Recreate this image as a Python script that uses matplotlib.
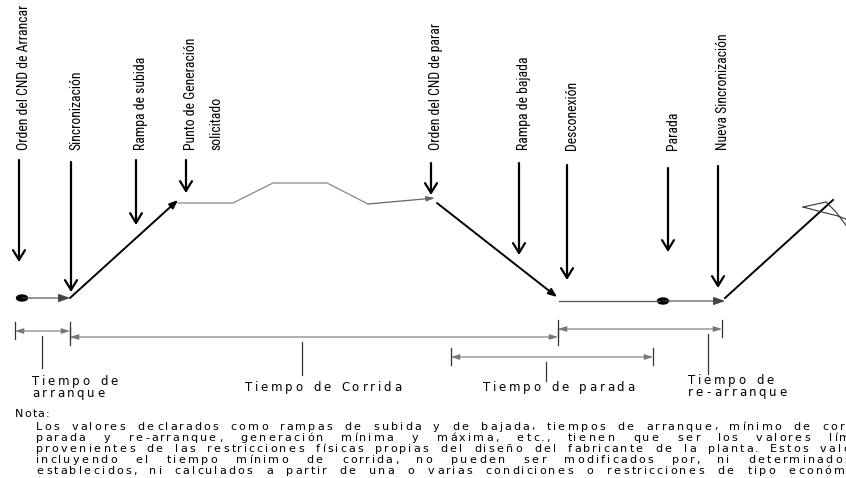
import matplotlib
matplotlib.use("Agg")
import matplotlib.pyplot as plt
from matplotlib import font_manager
from matplotlib.patches import FancyArrowPatch, Ellipse
from matplotlib.font_manager import FontProperties, findfont
from matplotlib.ft2font import FT2Font

# events marked with vertical arrows
event_labels = ["Orden del CND de Arrancar", "Sincronización", "Rampa de subida",
                "Punto de Generación\nsolicitado", "Orden del CND de parar",
                "Rampa de bajada", "Desconexión", "Parada", "Nueva Sincronización"]
event_x = [19, 71, 136, 186, 431, 519, 567, 668, 718]
event_top = [160, 162, 160, 160, 163, 163, 165, 168, 166]
event_tip = [262, 292, 225, 193, 195, 255, 280, 252, 288]

# generation profile (sketch units = pixels)
plateau_x = [178, 233, 273, 327, 368, 435]
plateau_y = [203, 203, 183, 183, 204, 198]
ramp_up_x, ramp_up_y = [70, 178], [298, 200]
ramp_down_x, ramp_down_y = [437, 557], [203, 297]
ramp_up2_x, ramp_up2_y = [725, 833], [298, 200]
dots_x, dots_y = [22, 663], [298, 301]
off_x, off_y = [559, 660], [301, 301]
scribble_x = [[803, 826, 836, 848], [803, 822, 838, 848]]
scribble_y = [[207, 202, 212, 228], [207, 212, 216, 220]]

# time intervals below the profile
interval_lines = [["Tiempo de", "arranque"], ["Tiempo de Corrida"],
                  ["Tiempo de parada"], ["Tiempo de", "re-arranque"]]
interval_start = [15, 70, 451, 558]
interval_end = [70, 558, 653, 722]
interval_y = [331, 337, 357, 329]
pointer_x = [42, 302, 546, 708]
pointer_end = [368, 375, 381, 374]
label_x = [32, 245, 483, 688]
label_y = [385, 391, 391, 384]

nota = "Nota:"
nota_lines = [
    "Los valores declarados como rampas de subida y de bajada, tiempos de arranque, mínimo de corr",
    "parada y re-arranque, generación mínima y máxima, etc., tienen que ser los valores lím",
    "provenientes de las restricciones físicas propias del diseño del fabricante de la planta. Estos valo",
    "incluyendo el tiempo mínimo de corrida, no pueden ser modificados por, ni determinados",
    "establecidos, ni calculados a partir de una o varias condiciones o restricciones de tipo económi",
]

fig = plt.figure(figsize=(8.46, 4.78), dpi=100)
ax = fig.add_axes([0, 0, 1, 1])
ax.set_xlim(0, 846)
ax.set_ylim(478, 0)
ax.axis("off")

body_file = findfont(FontProperties(family="DejaVu Sans"))


def advances(s, size, fname=body_file):
    font = FT2Font(fname, hinting_factor=1)
    font.set_size(size, 100)
    return [font.load_char(ord(c)).horiAdvance / 64 for c in s]


# a narrow face for the vertical labels, if one is installed
def pick_narrow():
    good = []
    for f in font_manager.fontManager.ttflist:
        narrowish = ("Narrow" in f.name or "Condensed" in f.name
                     or f.stretch in ("condensed", "semi-condensed"))
        if narrowish and f.style == "normal" and f.weight in (400, "normal", "regular"):
            good.append(f)
    for key in ["Liberation", "Roboto", "Open Sans", "Noto Sans", "DejaVu"]:
        for f in good:
            if f.name.startswith(key):
                return f.fname
    return good[0].fname if good else findfont(FontProperties(family="Liberation Sans"))


narrow_file = pick_narrow()
ref_size = 10.5
label_size = ref_size * 143 / sum(advances("Orden del CND de Arrancar", ref_size, narrow_file))
label_prop = FontProperties(fname=narrow_file, size=label_size)


def spaced_text(x, y, s, size, track, width=None):
    # letter-spaced text, optionally justified on the spaces
    adv = advances(s, size)
    extra = 0
    if width is not None and " " in s:
        natural = sum(adv) + track * (len(s) - 1)
        extra = (width - natural) / s.count(" ")
    pos = x
    for c, a in zip(s, adv):
        if c != " ":
            ax.text(pos, y, c, fontsize=size, ha="left", va="baseline",
                    family="DejaVu Sans", color="black")
        pos += a + track + (extra if c == " " else 0)


def arrow(x0, y0, x1, y1, style, lw, color="black"):
    ax.add_patch(FancyArrowPatch((x0, y0), (x1, y1), arrowstyle=style,
                                 lw=lw, color=color, shrinkA=0, shrinkB=0,
                                 mutation_scale=1))


# vertical event arrows and labels
for lab, x, y0, y1 in zip(event_labels, event_x, event_top, event_tip):
    arrow(x, y0, x, y1, "->,head_length=7,head_width=4.3", 1.6)
    ax.text(x - 2, 150, lab, rotation=90, ha="left", va="bottom",
            fontproperties=label_prop, linespacing=2.0, multialignment="left")

# generation profile
for x, y in zip(dots_x, dots_y):
    ax.add_patch(Ellipse((x, y), 11, 6, color="black"))
arrow(dots_x[0], dots_y[0], ramp_up_x[0], dots_y[0], "-|>,head_length=7,head_width=2.5", 0.8, "#444")
arrow(ramp_up_x[0], ramp_up_y[0], ramp_up_x[1], ramp_up_y[1], "-|>,head_length=5,head_width=2", 1.4)
ax.plot(plateau_x[:-1], plateau_y[:-1], color="#888", lw=0.9)
arrow(plateau_x[-2], plateau_y[-2], plateau_x[-1], plateau_y[-1], "-|>,head_length=5,head_width=1.5", 0.9, "#666")
arrow(ramp_down_x[0], ramp_down_y[0], ramp_down_x[1], ramp_down_y[1], "-|>,head_length=5,head_width=2", 1.4)
ax.plot(off_x, off_y, color="#555", lw=0.9)
arrow(dots_x[1], dots_y[1], ramp_up2_x[0], dots_y[1], "-|>,head_length=7,head_width=2.5", 0.8, "#444")
ax.plot(ramp_up2_x, ramp_up2_y, color="black", lw=1.4)
for sx, sy in zip(scribble_x, scribble_y):
    ax.plot(sx, sy, color="#333", lw=0.8)

# time intervals
for lines, x0, x1, y, px, py, lx, ly in zip(interval_lines, interval_start, interval_end,
                                            interval_y, pointer_x, pointer_end, label_x, label_y):
    arrow(x0, y, x1, y, "<|-|>,head_length=5,head_width=1.6", 0.8, "#777")
    for xt in (x0, x1):
        ax.plot([xt, xt], [y - 9, y + 8], color="#333", lw=0.9)
    ax.plot([px, px], [y + 5, py], color="#333", lw=0.9)
    for i, s in enumerate(lines):
        spaced_text(lx, ly + i * 12, s, 8.5, 2.7)

# note
spaced_text(15, 417, nota, 8, 1.2)
for i, s in enumerate(nota_lines):
    spaced_text(36, 429.5 + i * 11.2, s, 8, 2.1, width=814)

fig.savefig("out.png", dpi=100)
